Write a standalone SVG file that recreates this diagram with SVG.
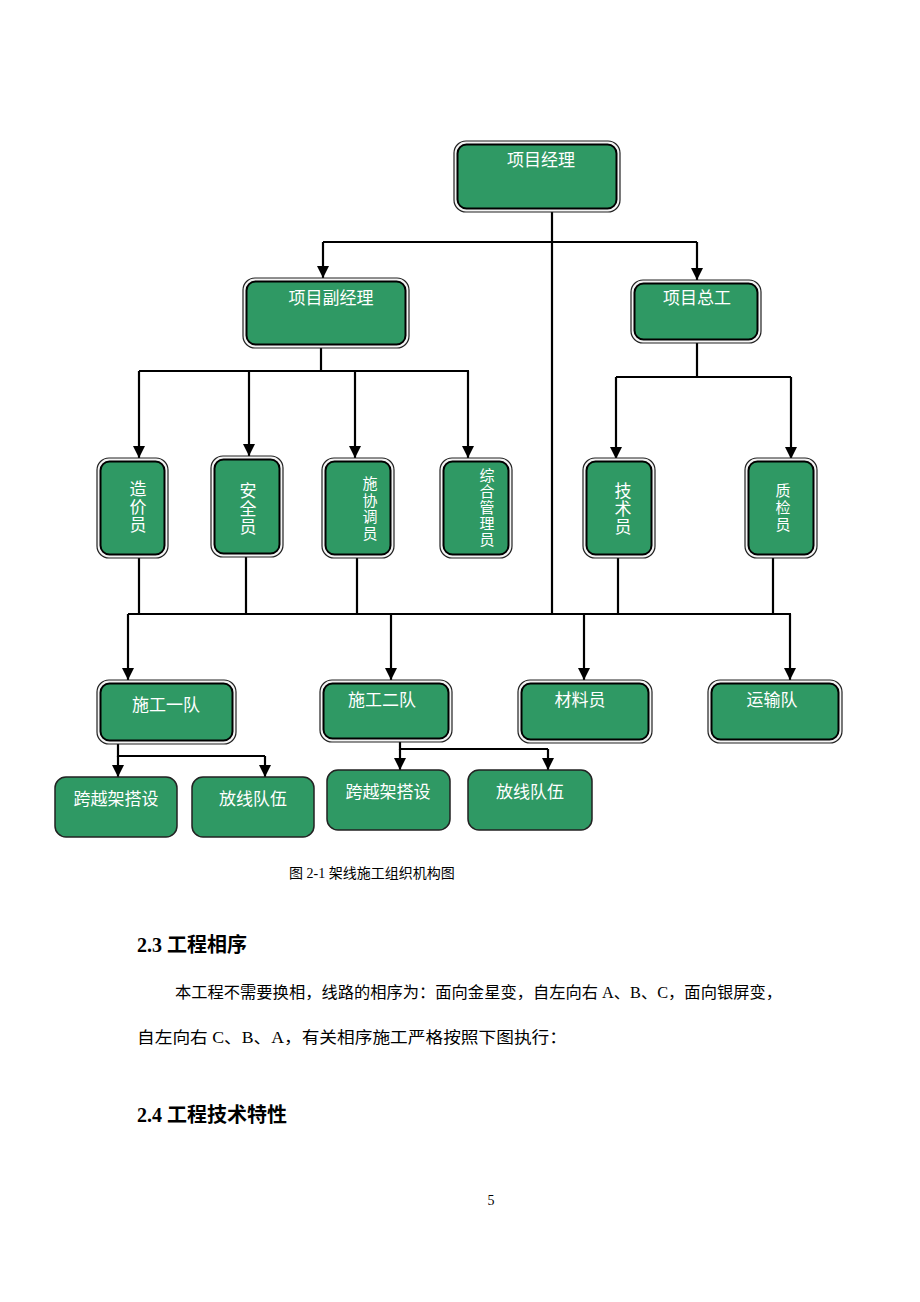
<svg xmlns="http://www.w3.org/2000/svg" width="920" height="1302" viewBox="0 0 920 1302">
<style>
.o{fill:#f4f4f4;stroke:#222;stroke-width:1.2}
.i{fill:#2f9964;stroke:#000;stroke-width:2}
.s{fill:#2f9964;stroke:#222;stroke-width:1.5}
.t{fill:#fff;font-family:"Noto Sans CJK SC","Noto Sans",sans-serif;font-size:17px;text-anchor:middle}
.tv{fill:#fff;font-family:"Noto Sans CJK SC","Noto Sans",sans-serif;text-anchor:middle;writing-mode:vertical-rl;dominant-baseline:central}
.c{fill:none;stroke:#000;stroke-width:2.2}
.a{fill:none;stroke:#000;stroke-width:2.2;marker-end:url(#ar)}
.doc{fill:#000;font-family:"Liberation Serif","Noto Sans CJK SC",serif}
.h{fill:#000;font-family:"Liberation Serif","Noto Sans CJK SC",serif;font-weight:bold;font-size:20px}
</style>
<defs>
<marker id="ar" markerUnits="userSpaceOnUse" markerWidth="12" markerHeight="12" refX="12" refY="6" orient="auto" viewBox="0 0 12 12">
<path d="M0,0 L12,6 L0,12 Z" fill="#000"/>
</marker>
</defs>
<rect width="920" height="1302" fill="#fff"/>

<g id="connectors">
<path class="c" d="M552 212 V614"/>
<path class="c" d="M323 242 H697"/>
<path class="a" d="M323 242 V278"/>
<path class="a" d="M697 242 V280"/>
<path class="c" d="M321 348 V371"/>
<path class="c" d="M139 371 H469"/>
<path class="a" d="M139 371 V458"/>
<path class="a" d="M249 371 V456"/>
<path class="a" d="M355 371 V458"/>
<path class="a" d="M468 371 V458"/>
<path class="c" d="M697 343 V377"/>
<path class="c" d="M616 377 H791"/>
<path class="a" d="M616 377 V459"/>
<path class="a" d="M791 377 V459"/>
<path class="c" d="M139 558 V614 M246 557 V614 M357 558 V614 M618 558 V614 M773 558 V614"/>
<path class="c" d="M128 614 H791"/>
<path class="a" d="M128 614 V680"/>
<path class="a" d="M391 614 V680"/>
<path class="a" d="M584 614 V680"/>
<path class="a" d="M790 614 V680"/>
<path class="c" d="M118 744 V756 H265"/>
<path class="a" d="M118 756 V777"/>
<path class="a" d="M265 756 V777"/>
<path class="c" d="M400 742 V749 H548"/>
<path class="a" d="M400 749 V770"/>
<path class="a" d="M548 749 V770"/>
</g>

<g id="n-pm">
<rect class="o" x="454" y="141" width="166" height="71" rx="12"/>
<rect class="i" x="457.5" y="144.5" width="159" height="64" rx="9"/>
<text class="t" x="541" y="166">项目经理</text>
</g>
<g id="n-dpm">
<rect class="o" x="243" y="278" width="166" height="70" rx="12"/>
<rect class="i" x="246.5" y="281.5" width="159" height="63" rx="9"/>
<text class="t" x="331" y="304">项目副经理</text>
</g>
<g id="n-ce">
<rect class="o" x="631" y="280" width="130" height="63" rx="12"/>
<rect class="i" x="634.5" y="283.5" width="123" height="56" rx="9"/>
<text class="t" x="697" y="304">项目总工</text>
</g>

<g id="n-cost">
<rect class="o" x="97" y="458" width="71" height="100" rx="12"/>
<rect class="i" x="100.5" y="461.5" width="64" height="93" rx="9"/>
<text class="tv" font-size="17" letter-spacing="1" x="138" y="507">造价员</text>
</g>
<g id="n-safe">
<rect class="o" x="211" y="456" width="72" height="101" rx="12"/>
<rect class="i" x="214.5" y="459.5" width="65" height="94" rx="9"/>
<text class="tv" font-size="17" letter-spacing="1" x="248" y="509">安全员</text>
</g>
<g id="n-coord">
<rect class="o" x="322" y="458" width="72" height="100" rx="12"/>
<rect class="i" x="325.5" y="461.5" width="65" height="93" rx="9"/>
<text class="tv" font-size="15" letter-spacing="1.5" x="370" y="509">施协调员</text>
</g>
<g id="n-admin">
<rect class="o" x="440" y="458" width="72" height="100" rx="12"/>
<rect class="i" x="443.5" y="461.5" width="65" height="93" rx="9"/>
<text class="tv" font-size="15" letter-spacing="1" x="487" y="508">综合管理员</text>
</g>
<g id="n-tech">
<rect class="o" x="583" y="458" width="72" height="100" rx="12"/>
<rect class="i" x="586.5" y="461.5" width="65" height="93" rx="9"/>
<text class="tv" font-size="17" letter-spacing="1" x="623" y="509">技术员</text>
</g>
<g id="n-qc">
<rect class="o" x="745" y="458" width="72" height="100" rx="12"/>
<rect class="i" x="748.5" y="461.5" width="65" height="93" rx="9"/>
<text class="tv" font-size="15" letter-spacing="2" x="783" y="508">质检员</text>
</g>

<g id="n-team1">
<rect class="o" x="97" y="680" width="139" height="64" rx="12"/>
<rect class="i" x="100.5" y="683.5" width="132" height="57" rx="9"/>
<text class="t" x="166" y="711">施工一队</text>
</g>
<g id="n-team2">
<rect class="o" x="320" y="680" width="132" height="62" rx="12"/>
<rect class="i" x="323.5" y="683.5" width="125" height="55" rx="9"/>
<text class="t" x="382" y="706">施工二队</text>
</g>
<g id="n-mat">
<rect class="o" x="518" y="680" width="134" height="63" rx="12"/>
<rect class="i" x="521.5" y="683.5" width="127" height="56" rx="9"/>
<text class="t" x="580" y="706">材料员</text>
</g>
<g id="n-trans">
<rect class="o" x="708" y="680" width="134" height="63" rx="12"/>
<rect class="i" x="711.5" y="683.5" width="127" height="56" rx="9"/>
<text class="t" x="772" y="706">运输队</text>
</g>

<g id="n-cross1">
<rect class="s" x="55" y="777" width="122" height="60" rx="11"/>
<text class="t" font-size="18" x="116" y="805">跨越架搭设</text>
</g>
<g id="n-line1">
<rect class="s" x="192" y="777" width="122" height="60" rx="11"/>
<text class="t" font-size="18" x="253" y="805">放线队伍</text>
</g>
<g id="n-cross2">
<rect class="s" x="327" y="770" width="123" height="60" rx="11"/>
<text class="t" font-size="18" x="388" y="798">跨越架搭设</text>
</g>
<g id="n-line2">
<rect class="s" x="468" y="770" width="124" height="60" rx="11"/>
<text class="t" font-size="18" x="530" y="798">放线队伍</text>
</g>

<g id="doc-text">
<text class="doc" font-size="14" x="289" y="878">图 2-1 架线施工组织机构图</text>
<text class="h" x="137" y="952">2.3 工程相序</text>
<text class="doc" font-size="16" x="175" y="998" textLength="607" lengthAdjust="spacingAndGlyphs">本工程不需要换相，线路的相序为：面向金星变，自左向右 A、B、C，面向银屏变，</text>
<text class="doc" font-size="16" x="137" y="1043" textLength="430" lengthAdjust="spacingAndGlyphs">自左向右 C、B、A，有关相序施工严格按照下图执行：</text>
<text class="h" x="137" y="1122">2.4 工程技术特性</text>
<text class="doc" font-size="14" x="491" y="1205" text-anchor="middle">5</text>
</g>
</svg>
